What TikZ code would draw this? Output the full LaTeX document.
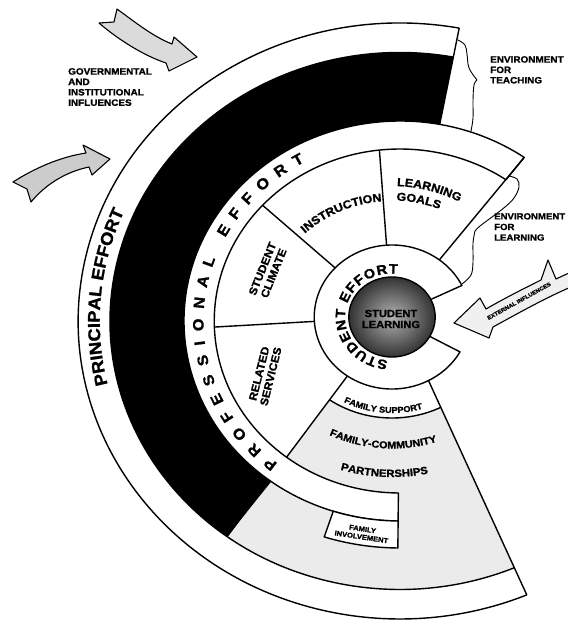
\documentclass[tikz,border=0pt]{standalone}
\usepackage{fontspec}
\setmainfont{Liberation Sans}[FakeStretch=1.08, BoldFeatures={FakeBold=1.3}]
\usetikzlibrary{decorations.text}
\begin{document}
\begin{tikzpicture}[x=1pt,y=1pt]
\tikzset{
 er/.style={x radius=1.08*#1pt, y radius=#1pt},
 Oframe/.style={shift={(400pt,-321pt)}, x={(1.08pt,0pt)}, y={(0pt,1pt)}},
 Sframe/.style={shift={(392pt,-317pt)}, x={(1.08pt,0pt)}, y={(0pt,1pt)}},
 outl/.style={line width=1.4pt, line join=round},
 lbl/.style={font=\bfseries\fontsize{9.2}{10.4}\selectfont, align=left, inner sep=0pt, anchor=north west},
 wedgetxt/.style={font=\bfseries\fontsize{11}{12}\selectfont, align=center, inner sep=0pt},
 arrowshape/.style={line width=1.1pt, line join=round, fill=black!20},
 brace/.style={line width=0.9pt},
}
\useasboundingbox (0,0) rectangle (568,-625);
\fill[white] (0,0) rectangle (568,-625);
\coordinate (S) at (392,-317);
\coordinate (O) at (400,-321);
% ---- named points, student frame
\begin{scope}[Sframe]
 \coordinate (fl1) at (235:72);
 \coordinate (fr1) at (-62:72);
 \coordinate (lg1) at (52.5:72);
 \coordinate (ruo) at (26:72);  \coordinate (rui) at (26:40);
 \coordinate (rlo) at (-29:72); \coordinate (rli) at (-29:40);
 \coordinate (d1a) at (94:72);    \coordinate (d1b) at (94:167.3);
 \coordinate (d2a) at (137:72);   \coordinate (d2b) at (137:163.8);
 \coordinate (d3a) at (183.5:72); \coordinate (d3b) at (183.5:164.8);
 \coordinate (fs1) at (235:101);
 \coordinate (se1) at (265:43.5);
 \coordinate (lr1) at (88:131);
 \coordinate (go1) at (88:116.5);
 \coordinate (in1) at (160:116);
 \coordinate (fsp1) at (214.6:96);
 \coordinate (fc1) at (216:131.5);
 \coordinate (pa1) at (227.3:160);
\end{scope}
% ---- named points, outer frame
\begin{scope}[Oframe]
 \coordinate (fl2) at (233.4:268.5);
 \coordinate (blk2) at (233.4:200);
 \coordinate (fr2) at (-66.8:298);
 \coordinate (pto) at (79.4:298);
 \coordinate (ptbi) at (79.4:268.5);
 \coordinate (pti) at (79.4:200);
 \coordinate (pro) at (54.9:200);
 \coordinate (pri) at (55.2:172);
 \coordinate (peo) at (269.5:200);
 \coordinate (pei) at (269.5:172);
 \coordinate (fib1) at (252:227);
 \coordinate (pe1) at (200:278);
 \coordinate (pf1) at (231.5:182);
\end{scope}
% ---- family area (stippled grey)
\fill[black!8] (fl1) -- (fl2) arc[start angle=233.4, end angle=293.2, er=268.5] -- (fr2) -- (fr1) arc[start angle=-62, end angle=-125, er=72] -- cycle;
\fill[white] (fl1) -- (fs1) arc[start angle=235, end angle=296.5, er=101] -- (fr1) arc[start angle=-62, end angle=-125, er=72] -- cycle;
% ---- black band
\fill[black] (ptbi) arc[start angle=79.4, end angle=233.4, er=268.5] -- (blk2) arc[start angle=233.4, end angle=79.4, er=200] -- cycle;
% ---- principal band
\draw[outl] (pto) arc[start angle=79.4, end angle=293.2, er=298];
\draw[outl] (ptbi) arc[start angle=79.4, end angle=293.2, er=268.5];
\draw[outl] (pto) -- (pti);
% ---- family wedge lines
\draw[outl] (fl1) -- (fl2);
\draw[outl] (fr1) -- (fr2);
\draw[outl] (fs1) arc[start angle=235, end angle=296.5, er=101];
% ---- professional band
\filldraw[outl, fill=white] (pro) arc[start angle=54.9, end angle=269.5, er=200] -- (pei) arc[start angle=269.5, end angle=55.2, er=172] -- cycle;
\draw[outl] (lg1) -- (pro);
% ---- family involvement box
\filldraw[outl, fill=white] (fib1) arc[start angle=252, end angle=269.5, er=227] -- (peo) arc[start angle=269.5, end angle=252, er=200] -- cycle;
% ---- wedge dividers
\draw[outl] (d1a) -- (d1b);
\draw[outl] (d2a) -- (d2b);
\draw[outl] (d3a) -- (d3b);
% ---- student ring
\filldraw[outl, fill=white] (rui) -- (ruo) arc[start angle=26, end angle=331, er=72] -- (rli);
\shade[inner color=black!30, outer color=black!80] (S) ellipse[x radius=43.2pt, y radius=40pt];
\draw[outl] (S) ellipse[x radius=43.2pt, y radius=40pt];
\node[font=\bfseries\fontsize{10.3}{11}\selectfont, align=center, inner sep=0pt] (sl) at (391,-319) {STUDENT\\LEARNING};
% ---- curved texts
\path[decorate, decoration={text along path, text={|\bfseries\fontsize{17}{17}\selectfont|PRINCIPAL EFFORT}, text align=center}] (pe1) arc[start angle=200, end angle=150, er=278];
\path[decorate, decoration={text along path, text={|\bfseries\fontsize{15}{15}\selectfont|PROFESSIONAL EFFORT}, text align={fit to path}}] (pf1) arc[start angle=231.5, end angle=119, er=182];
\path[decorate, decoration={text along path, text={|\bfseries\fontsize{13.5}{13.5}\selectfont|STUDENT EFFORT}, text align={fit to path}}] (se1) arc[start angle=265, end angle=83, er=43.5];
\path[decorate, decoration={text along path, text={|\bfseries\fontsize{11.5}{11.5}\selectfont|LEARNING}, text align=left}] (lr1) arc[start angle=88, end angle=30, er=131];
\path[decorate, decoration={text along path, text={|\bfseries\fontsize{11.5}{11.5}\selectfont|GOALS}, text align=left}] (go1) arc[start angle=88, end angle=30, er=116.5];
\path[decorate, decoration={text along path, text={|\bfseries\fontsize{11.5}{11.5}\selectfont|INSTRUCTION}, text align=center}] (in1) arc[start angle=160, end angle=70, er=116];
\path[decorate, decoration={text along path, text={|\bfseries\fontsize{8.5}{8.5}\selectfont|FAMILY SUPPORT}, text align=center}] (fsp1) arc[start angle=214.6, end angle=314.6, er=96];
\path[decorate, decoration={text along path, text={|\bfseries\fontsize{10}{10}\selectfont|FAMILY-COMMUNITY}, text align=center}] (fc1) arc[start angle=216, end angle=316, er=131.5];
\path[decorate, decoration={text along path, text={|\bfseries\fontsize{10.5}{10.5}\selectfont|PARTNERSHIPS}, text align=center}] (pa1) arc[start angle=227.3, end angle=307.3, er=160];
% ---- straight wedge texts
\node[wedgetxt, rotate=68] (sc) at (268,-271) {STUDENT\\CLIMATE};
\node[wedgetxt, rotate=76] (rs) at (265,-375) {RELATED\\SERVICES};
\node[font=\bfseries\fontsize{7}{8}\selectfont, align=center, inner sep=0pt, rotate=-8.5] (fi) at (362,-533) {FAMILY\\INVOLVEMENT};
% ---- labels
\node[lbl] (gov) at (68,-68) {GOVERNMENTAL\\AND\\INSTITUTIONAL\\INFLUENCES};
\node[lbl] (envt) at (490,-56) {ENVIRONMENT\\FOR\\TEACHING};
\node[lbl, font=\bfseries\fontsize{8.9}{10.6}\selectfont] (envl) at (494,-213) {ENVIRONMENT\\FOR\\LEARNING};
% ---- braces
\draw[brace] plot[smooth, tension=0.6] coordinates {(458,-40) (465,-45) (467,-54) (469,-68) (477,-80)};
\draw[brace] plot[smooth, tension=0.6] coordinates {(477,-80) (474,-85) (473,-100) (473,-118) (471,-131)};
\draw[brace] plot[smooth, tension=0.6] coordinates {(509,-176) (517,-179) (519,-187) (514,-198) (505,-207) (492,-217) (480,-226) (475,-231)};
\draw[brace] plot[smooth, tension=0.6] coordinates {(475,-231) (473,-243) (473,-262) (471,-275) (462,-284)};
% ---- arrows
\filldraw[arrowshape, fill=black!14] (117,-9) .. controls (135,-22) and (152,-36) .. (172,-44) -- (174,-37) -- (197,-57) -- (169,-71) -- (166,-63) .. controls (145,-56) and (120,-41) .. (99,-23) -- (114,-22) -- cycle;
\filldraw[arrowshape] (13,-182) .. controls (35,-168) and (60,-157) .. (86,-153) -- (83,-145) -- (110,-159) -- (92,-175) -- (89,-167) .. controls (65,-172) and (45,-185) .. (31,-202) -- (27,-189) -- cycle;
\filldraw[arrowshape, fill=black!6] (454,-323) -- (480,-298) -- (486,-309) .. controls (505,-298) and (525,-288) .. (541,-280) -- (548,-260) -- (556,-279) -- (571,-272) -- (571,-287) .. controls (545,-298) and (515,-315) .. (493,-327) -- (489,-338) -- cycle;
\node[font=\bfseries\fontsize{5.5}{5.5}\selectfont, inner sep=0pt, rotate=29] (ext) at (519,-301) {EXTERNAL INFLUENCES};
\end{tikzpicture}
\end{document}
